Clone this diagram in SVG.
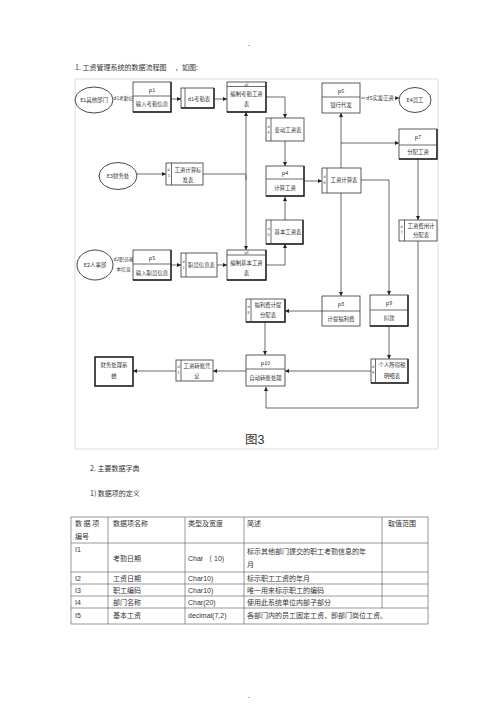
<svg xmlns="http://www.w3.org/2000/svg" width="500" height="708" viewBox="0 0 500 708">
<defs>
<marker id="a" viewBox="0 0 6 6" refX="6" refY="3" markerWidth="4" markerHeight="4" orient="auto" markerUnits="userSpaceOnUse"><path d="M0,0 L6,3 L0,6z" fill="#222"/></marker>
</defs>
<style>
text{font-family:"Noto Sans CJK SC","Liberation Sans",sans-serif;fill:#333}
.t{font-size:7px}
.lat{font-family:"Liberation Sans","Noto Sans CJK SC",sans-serif}
.d{font-size:5.4px;text-anchor:middle}
.s{font-size:3.6px;text-anchor:middle}
.box{fill:#fff;stroke:#333;stroke-width:0.8}
.sh{fill:none;stroke:#222;stroke-width:1.4}
.ent{fill:#fff;stroke:#333;stroke-width:0.9}
.ln{fill:none;stroke:#444;stroke-width:0.8}
.ar{marker-end:url(#a)}
.frame{fill:none;stroke:#d0d0d0;stroke-width:0.7}
.tb{fill:none;stroke:#555;stroke-width:0.6}
</style>
<rect width="500" height="708" fill="#fff"/>
<text x="248" y="46" class="t" fill="#666">.</text>
<text x="75" y="70" class="t">1.  工资管理系统的数据流程图　 ，如图:</text>
<rect class="frame" x="75" y="79" width="363" height="370"/>

<g id="connectors">
<polyline class="ln ar" points="171,99 181,99"/>
<polyline class="ln ar" points="214,99 227,99"/>
<polyline class="ln ar" points="266,97 285,97 285,118"/>
<polyline class="ln ar" points="285,141 285,166"/>
<polyline class="ln ar" points="304,181 322,181"/>
<polyline class="ln ar" points="285,220 285,197"/>
<polyline class="ln ar" points="266,265 285,265 285,244"/>
<polyline class="ln ar" points="137,174 166,174"/>
<polyline class="ln" points="203,174 246,174"/>
<polyline class="ln ar" points="246,180 246,112"/>
<polyline class="ln ar" points="246,175 246,250"/>
<polyline class="ln ar" points="171,265 181,265"/>
<polyline class="ln ar" points="217,265 227,265"/>
<polyline class="ln ar" points="341,168 341,113"/>
<polyline class="ln ar" points="341,143 399,143"/>
<polyline class="ln ar" points="361,98 399,98"/>
<polyline class="ln ar" points="418,159 418,220"/>
<polyline class="ln ar" points="418,241 418,408 266,408 266,387"/>
<polyline class="ln ar" points="341,193 341,296"/>
<polyline class="ln ar" points="361,180 389,180 389,295"/>
<polyline class="ln ar" points="322,311 285,311"/>
<polyline class="ln ar" points="265,322 265,355"/>
<polyline class="ln ar" points="389,326 389,359"/>
<polyline class="ln ar" points="371,371 285,371"/>
<polyline class="ln ar" points="246,371 213,371"/>
<polyline class="ln ar" points="176,371 133,371"/>
</g>

<g id="E1">
<ellipse class="ent" cx="94" cy="100" rx="19" ry="13"/>
<text x="94" y="102" class="d">E1其他部门</text>
</g>
<g id="flow-d1"><text x="113.5" y="99.5" font-size="4.7">d1考勤记录</text></g>
<g id="p1">
<rect class="box" x="133" y="82" width="38" height="30"/>
<path class="sh" d="M171,82 V112 H133"/>
<line class="ln" x1="133" y1="96" x2="171" y2="96"/>
<text x="152" y="92" class="d">p1</text>
<text x="152" y="106" class="d">输入考勤信息</text>
</g>
<g id="d1">
<rect class="box" x="181" y="88" width="33" height="20"/>
<path class="sh" d="M214,88 V108 H181"/>
<line class="ln" x1="185" y1="88" x2="185" y2="108"/>
<text x="199" y="101" class="d">d1考勤表</text>
</g>
<g id="p2">
<rect class="box" x="227" y="82" width="39" height="30"/>
<path class="sh" d="M266,82 V112 H227"/>
<line class="ln" x1="227" y1="86.5" x2="266" y2="86.5"/>
<text x="246.5" y="86" class="s">p2</text>
<text x="246.5" y="96" class="d">编制考勤工资</text>
<text x="246.5" y="106" class="d">表</text>
</g>
<g id="store-bd">
<rect class="box" x="266" y="118" width="38" height="23"/>
<line class="ln" x1="271" y1="118" x2="271" y2="141"/>
<text x="268.5" y="128" class="s">d</text><text x="268.5" y="134" class="s">4</text>
<text x="288" y="131.5" class="d">变动工资表</text>
</g>
<g id="p4">
<rect class="box" x="266" y="166" width="38" height="30"/>
<path class="sh" d="M304,166 V196 H266"/>
<line class="ln" x1="266" y1="179" x2="304" y2="179"/>
<text x="285" y="175" class="d">p4</text>
<text x="285" y="190" class="d">计算工资</text>
</g>
<g id="store-jb">
<rect class="box" x="266" y="220" width="37" height="24"/>
<path class="sh" d="M303,220 V244 H266"/>
<line class="ln" x1="271" y1="220" x2="271" y2="244"/>
<text x="268.5" y="230" class="s">d</text><text x="268.5" y="236" class="s">5</text>
<text x="288" y="234" class="d">基本工资表</text>
</g>
<g id="E3">
<ellipse class="ent" cx="118" cy="176" rx="19" ry="13.5"/>
<text x="118" y="178" class="d">E3财务处</text>
</g>
<g id="store-bz">
<rect class="box" x="166" y="163" width="37" height="22"/>
<line class="ln" x1="171.5" y1="163" x2="171.5" y2="185"/>
<text x="168.7" y="171" class="s">d</text><text x="168.7" y="177" class="s">3</text>
<text x="188" y="172" class="d">工资计算标</text>
<text x="188" y="182" class="d">准表</text>
</g>
<g id="E2">
<ellipse class="ent" cx="95" cy="265" rx="18" ry="15"/>
<text x="95" y="267" class="d">E2人事部</text>
</g>
<g id="flow-d2">
<text x="123.5" y="261" text-anchor="middle" font-size="4.8">d2职员基</text>
<text x="123.5" y="271" text-anchor="middle" font-size="4.8">本信息</text>
</g>
<g id="p5">
<rect class="box" x="133" y="250" width="38" height="30"/>
<path class="sh" d="M171,250 V280 H133"/>
<line class="ln" x1="133" y1="264" x2="171" y2="264"/>
<text x="152" y="260" class="d">p5</text>
<text x="152" y="275" class="d">输入职员信息</text>
</g>
<g id="store-zy">
<rect class="box" x="181" y="253" width="36" height="24"/>
<line class="ln" x1="186" y1="253" x2="186" y2="277"/>
<text x="183.5" y="263" class="s">d</text><text x="183.5" y="269" class="s">2</text>
<text x="201.5" y="267" class="d">职员信息表</text>
</g>
<g id="p3">
<rect class="box" x="227" y="250" width="39" height="30"/>
<path class="sh" d="M266,250 V280 H227"/>
<line class="ln" x1="227" y1="255" x2="266" y2="255"/>
<text x="246.5" y="254" class="s">p3</text>
<text x="246.5" y="265" class="d">编制基本工资</text>
<text x="246.5" y="275" class="d">表</text>
</g>
<g id="p6">
<rect class="box" x="322" y="83" width="38" height="30"/>
<line class="ln" x1="322" y1="97" x2="360" y2="97"/>
<text x="341" y="93" class="d">p6</text>
<text x="341" y="107" class="d">银行代发</text>
</g>
<g id="flow-d5"><text x="380" y="100" class="d" style="paint-order:stroke;stroke:#fff;stroke-width:2px">d5实发工资</text></g>
<g id="E4">
<ellipse class="ent" cx="415" cy="100" rx="16" ry="12.5"/>
<text x="415" y="102" class="d">E4员工</text>
</g>
<g id="store-js">
<rect class="box" x="322" y="168" width="39" height="25"/>
<line class="ln" x1="327" y1="168" x2="327" y2="193"/>
<text x="324.5" y="178" class="s">d</text><text x="324.5" y="184" class="s">6</text>
<text x="344" y="182" class="d">工资计算表</text>
</g>
<g id="p7">
<rect class="box" x="399" y="129" width="38" height="30"/>
<path class="sh" d="M437,129 V159 H399"/>
<line class="ln" x1="399" y1="145" x2="437" y2="145"/>
<text x="418" y="139" class="d">p7</text>
<text x="418" y="154" class="d">分配工资</text>
</g>
<g id="store-fy">
<rect class="box" x="399" y="220" width="38" height="21"/>
<line class="ln" x1="404.5" y1="220" x2="404.5" y2="241"/>
<text x="401.7" y="228" class="s">d</text><text x="401.7" y="234" class="s">7</text>
<text x="421" y="228" class="d">工资费用计</text>
<text x="421" y="237" class="d">分配表</text>
</g>
<g id="p8">
<rect class="box" x="322" y="296" width="38" height="30"/>
<line class="ln" x1="322" y1="311" x2="360" y2="311"/>
<text x="341" y="306" class="d">p8</text>
<text x="341" y="321" class="d">计提福利费</text>
</g>
<g id="p9">
<rect class="box" x="370" y="295" width="38" height="31"/>
<path class="sh" d="M408,295 V326 H370"/>
<line class="ln" x1="370" y1="310" x2="408" y2="310"/>
<text x="389" y="305" class="d">p9</text>
<text x="389" y="320" class="d">扣款</text>
</g>
<g id="store-fl">
<rect class="box" x="246" y="299" width="39" height="23"/>
<path class="sh" d="M285,299 V322 H246"/>
<line class="ln" x1="251" y1="299" x2="251" y2="322"/>
<text x="248.5" y="308" class="s">d</text><text x="248.5" y="314" class="s">8</text>
<text x="268" y="307" class="d">福利费计提</text>
<text x="268" y="317" class="d">分配表</text>
</g>
<g id="p10">
<rect class="box" x="246" y="355" width="39" height="31"/>
<line class="ln" x1="246" y1="369" x2="285" y2="369"/>
<text x="265.5" y="365" class="d">p10</text>
<text x="265.5" y="380" class="d">自动转账处理</text>
</g>
<g id="store-gs">
<rect class="box" x="371" y="359" width="37" height="24"/>
<path class="sh" d="M408,359 V383 H371"/>
<line class="ln" x1="375.5" y1="359" x2="375.5" y2="383"/>
<text x="373.2" y="368" class="s">d</text><text x="373.2" y="374" class="s">9</text>
<text x="392" y="367" class="d">个人所得税</text>
<text x="392" y="378" class="d">明细表</text>
</g>
<g id="store-zz">
<rect class="box" x="176" y="360" width="37" height="21"/>
<line class="ln" x1="181" y1="360" x2="181" y2="381"/>
<text x="178.5" y="368" class="s">d</text><text x="178.5" y="374" class="s">1</text>
<text x="197" y="368" class="d">工资转账凭</text>
<text x="197" y="378" class="d">证</text>
</g>
<g id="cw">
<rect class="box" x="95" y="357" width="38" height="29"/>
<rect class="sh" x="95" y="357" width="38" height="29"/>
<text x="114" y="367" class="d">财务处理系</text>
<text x="114" y="378" class="d">统</text>
</g>
<text x="245" y="444" font-size="12.5" class="lat" fill="#666">图3</text>

<text x="90" y="471" class="t">2.  主要数据字典</text>
<text x="90" y="496" class="t">1)  数据项的定义</text>

<g id="table">
<rect class="tb" x="71" y="517" width="357" height="107"/>
<line class="tb" x1="71" y1="543" x2="428" y2="543"/>
<line class="tb" x1="71" y1="572" x2="428" y2="572"/>
<line class="tb" x1="71" y1="584" x2="428" y2="584"/>
<line class="tb" x1="71" y1="596" x2="428" y2="596"/>
<line class="tb" x1="71" y1="608" x2="428" y2="608"/>
<line class="tb" x1="108" y1="517" x2="108" y2="624"/>
<line class="tb" x1="185" y1="517" x2="185" y2="624"/>
<line class="tb" x1="244" y1="517" x2="244" y2="624"/>
<line class="tb" x1="382" y1="517" x2="382" y2="608"/>
<text x="75" y="526" class="t">数 据 项</text>
<text x="75" y="539" class="t">编号</text>
<text x="113" y="526" class="t">数据项名称</text>
<text x="188" y="526" class="t">类型及宽度</text>
<text x="247" y="526" class="t">简述</text>
<text x="388" y="526" class="t">取值范围</text>
<text x="75" y="552" class="t lat">I1</text>
<text x="113" y="561" class="t">考勤日期</text>
<text x="188" y="561" class="t lat">Char （ 10)</text>
<text x="247" y="554" class="t">标示其他部门提交的职工考勤信息的年</text>
<text x="247" y="567" class="t">月</text>
<text x="75" y="581" class="t lat">I2</text>
<text x="113" y="581" class="t">工资日期</text>
<text x="188" y="581" class="t lat">Char10)</text>
<text x="247" y="581" class="t">标示职工工资的年月</text>
<text x="75" y="593" class="t lat">I3</text>
<text x="113" y="593" class="t">职工编码</text>
<text x="188" y="593" class="t lat">Char10)</text>
<text x="247" y="593" class="t">唯一用来标示职工的编码</text>
<text x="75" y="605" class="t lat">I4</text>
<text x="113" y="605" class="t">部门名称</text>
<text x="188" y="605" class="t lat">Char(20)</text>
<text x="247" y="605" class="t">使用此系统单位内部子部分</text>
<text x="75" y="618" class="t lat">I5</text>
<text x="113" y="618" class="t">基本工资</text>
<text x="188" y="618" class="t lat">decimal(7,2)</text>
<text x="247" y="618" class="t">各部门内的员工固定工资，即部门岗位工资。</text>
</g>
<text x="248" y="698" class="t" fill="#666">.</text>
</svg>
